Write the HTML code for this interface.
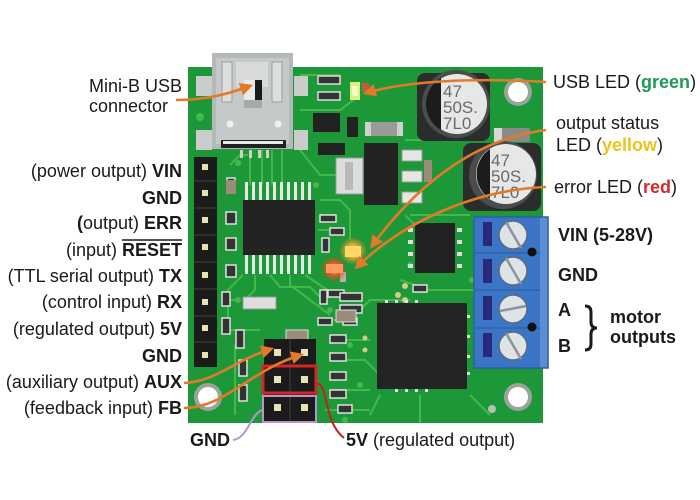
<!DOCTYPE html>
<html><head><meta charset="utf-8"><style>
html,body{margin:0;padding:0;background:#fff;}
svg{display:block}
text{font-family:"Liberation Sans",Arial,sans-serif;font-size:18px;fill:#1a1a1a}
.b{font-weight:bold}
.cap{font-size:17px;fill:#6a6a6a}
</style></head><body>
<svg width="700" height="500" viewBox="0 0 700 500" xmlns="http://www.w3.org/2000/svg">
<defs>
<marker id="ar" viewBox="0 0 12 12" markerWidth="13" markerHeight="13" refX="9" refY="6" orient="auto" markerUnits="userSpaceOnUse">
<path d="M0,0 L12,6 L0,12 z" fill="#e4792a"/>
</marker>
<radialGradient id="ly" cx="50%" cy="50%" r="50%"><stop offset="0" stop-color="#fff6a0"/><stop offset="0.5" stop-color="#ffb030" stop-opacity="0.8"/><stop offset="1" stop-color="#ff8020" stop-opacity="0"/></radialGradient>
<radialGradient id="lr" cx="50%" cy="50%" r="50%"><stop offset="0" stop-color="#ffd0a0"/><stop offset="0.5" stop-color="#ff5020" stop-opacity="0.8"/><stop offset="1" stop-color="#ff3010" stop-opacity="0"/></radialGradient>
</defs>

<!-- board -->
<rect x="188" y="67" width="355" height="356" fill="#1d9838"/>
<!-- traces -->
<g stroke="#46b84b" stroke-width="2" fill="none">
<path d="M250 150 V185 M262 150 V185 M272 150 V185 M282 150 V185"/>
<path d="M230 165 l10 -10 h8 M300 150 l20 25 h20 l10 15"/>
<path d="M243 275 l-15 15 v40 M255 275 v15 l-10 10 M270 275 l10 12 h30 l15 15 M290 275 v10 l40 30 M305 275 l30 20 h20"/>
<path d="M320 200 h20 l10 10 v30 M320 215 h15 M318 230 h25"/>
<path d="M225 220 h12 M225 245 h12 M225 270 h12 M225 300 h15"/>
<path d="M320 320 h30 l20 -20 h40 M330 340 h40 M330 360 h35 l15 15 M330 390 h40 M325 410 h45"/>
<path d="M470 290 h5 M400 280 l30 10 h40 M410 215 h60 M300 110 h40 l20 -15 M300 75 h40"/>
<path d="M380 395 l-10 20 M420 395 v28 M470 395 l20 20"/>
<path d="M220 140 h30 M230 330 h30 M235 345 v70"/>
<path d="M405 140 h45 l15 -15 M405 215 l15 15"/>
</g>
<g fill="#46b84b">
<circle cx="200" cy="117" r="4"/><circle cx="238" cy="163" r="3"/><circle cx="316" cy="185" r="3"/>
<circle cx="238" cy="300" r="3"/><circle cx="330" cy="310" r="3"/><circle cx="350" cy="345" r="3"/>
<circle cx="410" cy="265" r="3"/><circle cx="420" cy="290" r="3"/><circle cx="360" cy="385" r="3"/>
<circle cx="345" cy="420" r="3"/><circle cx="472" cy="280" r="3"/><circle cx="470" cy="130" r="3"/>
</g>

<!-- USB connector side pads -->
<rect x="196" y="76" width="16" height="20" fill="#c8cccb"/>
<rect x="196" y="130" width="16" height="20" fill="#c8cccb"/>
<rect x="294" y="76" width="14" height="20" fill="#c8cccb"/>
<rect x="294" y="130" width="14" height="20" fill="#c8cccb"/>
<!-- USB connector -->
<rect x="212" y="53" width="81" height="96" fill="#b5b8b9"/>
<rect x="216" y="58" width="73" height="86" fill="#c6c9ca"/>
<rect x="222" y="62" width="10" height="40" fill="#dcdedf" stroke="#9a9d9e"/>
<rect x="272" y="62" width="10" height="40" fill="#dcdedf" stroke="#9a9d9e"/>
<rect x="236" y="62" width="32" height="25" fill="#d8dadb"/>
<rect x="244" y="80" width="18" height="20" fill="#e8eaea"/>
<rect x="255" y="80" width="7" height="20" fill="#1c1c1c"/>
<rect x="244" y="100" width="18" height="8" fill="#a7aaab"/>
<circle cx="230" cy="124" r="3.5" fill="#eef0f0"/>
<circle cx="278" cy="124" r="3.5" fill="#eef0f0"/>
<rect x="221" y="140" width="65" height="8" fill="#202020"/>
<rect x="223" y="141" width="60" height="3" fill="#e8e8e8"/>
<g fill="#d0d0d0"><rect x="240" y="150" width="3" height="8"/><rect x="249" y="150" width="3" height="8"/><rect x="258" y="150" width="3" height="8"/><rect x="266" y="150" width="3" height="8"/></g>

<!-- top small parts -->
<rect x="313" y="113" width="27" height="19" fill="#222"/>
<rect x="347" y="117" width="11" height="20" fill="#222"/>
<rect x="318" y="76" width="22" height="8" fill="#333" stroke="#ddd" stroke-width="1.5"/>
<rect x="318" y="92" width="22" height="8" fill="#333" stroke="#ddd" stroke-width="1.5"/>
<rect x="318" y="143" width="27" height="12" fill="#222"/>
<rect x="365" y="122" width="38" height="14" rx="3" fill="#9c9a96"/>
<rect x="365" y="122" width="6" height="14" fill="#d0d0d0"/><rect x="397" y="122" width="6" height="14" fill="#d0d0d0"/>
<rect x="362" y="83" width="7" height="9" fill="#b86040"/>
<!-- green LED -->
<rect x="350" y="82" width="10" height="18" fill="#d8f080"/>
<rect x="352" y="86" width="6" height="10" fill="#f4ffc0"/>

<!-- silver component -->
<rect x="336" y="158" width="27" height="36" fill="#dcdedd" stroke="#9a9c9b"/>
<rect x="345" y="162" width="8" height="28" fill="#b8bab9"/>
<!-- regulator IC -->
<rect x="364" y="143" width="34" height="62" fill="#232323"/>
<g fill="#e6e6e6" stroke="#999"><rect x="402" y="150" width="20" height="11"/><rect x="402" y="171" width="20" height="11"/><rect x="402" y="192" width="20" height="11"/></g>
<rect x="424" y="160" width="8" height="22" fill="#9a8c7a"/>

<!-- capacitors -->
<rect x="417" y="73" width="73" height="68" rx="8" fill="#2a2d2b"/>
<circle cx="456" cy="104" r="34" fill="#4a4d4b"/>
<circle cx="457" cy="104" r="30" fill="#e6e8e8"/>
<path d="M441 78 A30 30 0 0 0 441 130 Z" fill="#1c1c1c"/>
<text x="443" y="97" class="cap">47</text>
<text x="443" y="113" class="cap">50S.</text>
<text x="443" y="129" class="cap">7L0</text>
<rect x="494" y="128" width="36" height="14" rx="2" fill="#8c8a86"/>
<rect x="494" y="128" width="8" height="14" fill="#d8d8d8"/>
<rect x="463" y="143" width="78" height="68" rx="8" fill="#2a2d2b"/>
<circle cx="503" cy="175" r="34" fill="#4a4d4b"/>
<circle cx="506" cy="174" r="30" fill="#e6e8e8"/>
<path d="M490 149 A30 30 0 0 0 490 199 Z" fill="#1c1c1c"/>
<text x="491" y="166" class="cap">47</text>
<text x="491" y="182" class="cap">50S.</text>
<text x="491" y="198" class="cap">7L0</text>

<!-- mounting holes -->
<circle cx="518" cy="92" r="14" fill="#9aa39c"/><circle cx="518" cy="92" r="10" fill="#fff"/>
<circle cx="208" cy="397" r="14" fill="#9aa39c"/><circle cx="208" cy="397" r="10" fill="#fff"/>
<circle cx="518" cy="397" r="14" fill="#9aa39c"/><circle cx="518" cy="397" r="10" fill="#fff"/>
<circle cx="492" cy="409" r="4" fill="#b7c0b8"/>

<!-- left header -->
<rect x="194" y="157" width="23" height="210" fill="#1b1b1b"/>
<g fill="#2e2e2e"><rect x="194" y="180" width="23" height="2"/><rect x="194" y="207" width="23" height="2"/><rect x="194" y="234" width="23" height="2"/><rect x="194" y="261" width="23" height="2"/><rect x="194" y="288" width="23" height="2"/><rect x="194" y="315" width="23" height="2"/><rect x="194" y="341" width="23" height="2"/></g>
<g fill="#e9e2b4">
<rect x="202" y="164" width="6" height="6"/><rect x="202" y="190" width="6" height="6"/><rect x="202" y="217" width="6" height="6"/><rect x="202" y="244" width="6" height="6"/>
<rect x="202" y="272" width="6" height="6"/><rect x="202" y="299" width="6" height="6"/><rect x="202" y="325" width="6" height="6"/><rect x="202" y="352" width="6" height="6"/>
</g>

<!-- small SMD parts left column -->
<g fill="#333" stroke="#e0e0e0" stroke-width="1.5">
<rect x="227" y="178" width="8" height="14"/><rect x="226" y="212" width="10" height="12"/><rect x="226" y="238" width="10" height="12"/>
<rect x="226" y="265" width="10" height="12"/><rect x="222" y="292" width="8" height="14"/><rect x="222" y="318" width="8" height="16"/>
<rect x="236" y="330" width="8" height="18"/><rect x="239" y="360" width="8" height="16"/><rect x="239" y="385" width="8" height="16"/>
</g>
<rect x="226" y="180" width="10" height="14" fill="#9a8c7a"/>

<!-- USB IC -->
<g fill="#e6e6e6">
<rect x="245" y="182" width="3" height="20"/><rect x="252" y="182" width="3" height="20"/><rect x="259" y="182" width="3" height="20"/><rect x="266" y="182" width="3" height="20"/><rect x="273" y="182" width="3" height="20"/>
<rect x="280" y="182" width="3" height="20"/><rect x="287" y="182" width="3" height="20"/><rect x="294" y="182" width="3" height="20"/><rect x="301" y="182" width="3" height="20"/><rect x="308" y="182" width="3" height="20"/>
<rect x="245" y="254" width="3" height="20"/><rect x="252" y="254" width="3" height="20"/><rect x="259" y="254" width="3" height="20"/><rect x="266" y="254" width="3" height="20"/><rect x="273" y="254" width="3" height="20"/>
<rect x="280" y="254" width="3" height="20"/><rect x="287" y="254" width="3" height="20"/><rect x="294" y="254" width="3" height="20"/><rect x="301" y="254" width="3" height="20"/><rect x="308" y="254" width="3" height="20"/>
</g>
<rect x="243" y="200" width="72" height="55" fill="#232323"/>

<!-- crystal -->
<rect x="243" y="297" width="33" height="12" fill="#dedfdc" stroke="#999"/>

<!-- misc SMD center -->
<g fill="#333" stroke="#e0e0e0" stroke-width="1.5">
<rect x="320" y="215" width="16" height="7"/><rect x="330" y="228" width="14" height="7"/><rect x="322" y="238" width="7" height="14"/>
<rect x="320" y="290" width="7" height="14"/><rect x="328" y="290" width="16" height="7"/>
<rect x="318" y="318" width="14" height="7"/><rect x="343" y="318" width="14" height="7"/>
<rect x="340" y="293" width="22" height="8"/><rect x="340" y="305" width="22" height="8"/>
<rect x="330" y="335" width="16" height="8"/><rect x="330" y="353" width="16" height="8"/><rect x="330" y="372" width="16" height="8"/>
<rect x="330" y="390" width="16" height="8"/><rect x="338" y="405" width="14" height="8"/>
<rect x="413" y="285" width="14" height="7"/>
</g>
<rect x="286" y="330" width="22" height="10" fill="#9a8c7a" stroke="#ddd"/>
<rect x="336" y="310" width="20" height="12" fill="#9a8c7a" stroke="#ddd"/>
<rect x="340" y="272" width="6" height="10" fill="#b8b0a0"/>

<!-- LEDs glow -->
<circle cx="353" cy="251" r="14" fill="url(#ly)"/>
<circle cx="334" cy="269" r="13" fill="url(#lr)"/>
<rect x="345" y="246" width="16" height="11" fill="#ffd86a"/>
<rect x="326" y="264" width="17" height="9" fill="#ff9a60"/>

<!-- middle IC -->
<rect x="415" y="223" width="40" height="50" fill="#222"/>
<g fill="#ddd"><rect x="408" y="228" width="5" height="4"/><rect x="408" y="240" width="5" height="4"/><rect x="408" y="252" width="5" height="4"/><rect x="408" y="264" width="5" height="4"/>
<rect x="457" y="228" width="5" height="4"/><rect x="457" y="240" width="5" height="4"/><rect x="457" y="252" width="5" height="4"/><rect x="457" y="264" width="5" height="4"/></g>
<g fill="#d8c98a"><circle cx="405" cy="286" r="3"/><circle cx="398" cy="295" r="3"/><circle cx="405" cy="300" r="3"/><circle cx="365" cy="338" r="2.5"/><circle cx="365" cy="350" r="2.5"/></g>

<!-- big QFN IC -->
<rect x="377" y="303" width="90" height="86" fill="#242424"/>
<g fill="#ddd"><rect x="385" y="300" width="3" height="3"/><rect x="395" y="300" width="3" height="3"/><rect x="405" y="300" width="3" height="3"/><rect x="415" y="300" width="3" height="3"/>
<rect x="395" y="389" width="3" height="3"/><rect x="405" y="389" width="3" height="3"/><rect x="415" y="389" width="3" height="3"/><rect x="425" y="389" width="3" height="3"/>
<rect x="467" y="315" width="3" height="3"/><rect x="467" y="335" width="3" height="3"/><rect x="467" y="355" width="3" height="3"/><rect x="467" y="372" width="3" height="3"/></g>

<!-- bottom header -->
<rect x="264" y="339" width="52" height="84" fill="#1b1b1b"/>
<rect x="289" y="339" width="2" height="84" fill="#2e2e2e"/>
<g fill="#e9e2b4">
<rect x="274" y="349" width="7" height="7"/><rect x="301" y="349" width="7" height="7"/>
<rect x="274" y="376" width="7" height="7"/><rect x="301" y="376" width="7" height="7"/>
<rect x="274" y="404" width="7" height="7"/><rect x="301" y="404" width="7" height="7"/>
</g>
<rect x="263" y="366" width="53" height="27" fill="none" stroke="#d42626" stroke-width="3"/>
<rect x="263" y="396" width="53" height="26" fill="none" stroke="#b795c8" stroke-width="2"/>
<path d="M316 383 C 330 385, 322 420, 344 438" fill="none" stroke="#c21e1e" stroke-width="2"/>
<path d="M262 410 C 250 415, 248 438, 233 440" fill="none" stroke="#b795c8" stroke-width="2"/>

<!-- terminal block -->
<rect x="474" y="217" width="74" height="151" fill="#3b76c6"/>
<rect x="540" y="217" width="8" height="151" fill="#5a8fd6"/>
<rect x="474" y="217" width="74" height="151" fill="none" stroke="#2c5ea8" stroke-width="1.5"/>
<g stroke="#2f62ab" stroke-width="1.5"><line x1="474" y1="253" x2="540" y2="253"/><line x1="474" y1="290" x2="540" y2="290"/><line x1="474" y1="328" x2="540" y2="328"/></g>
<g fill="#2a2878"><rect x="483" y="222" width="9" height="24"/><rect x="483" y="259" width="9" height="24"/><rect x="483" y="296" width="9" height="24"/><rect x="483" y="333" width="9" height="24"/></g>
<g fill="#dfe3e6" stroke="#5a6a80" stroke-width="1.5">
<circle cx="513" cy="235" r="14"/><circle cx="513" cy="271" r="14"/><circle cx="513" cy="309" r="14"/><circle cx="513" cy="346" r="14"/>
</g>
<g stroke="#8a949c" stroke-width="2.5"><line x1="506" y1="222" x2="521" y2="248"/><line x1="506" y1="258" x2="521" y2="284"/><line x1="500" y1="311" x2="526" y2="306"/><line x1="506" y1="333" x2="521" y2="359"/></g>
<circle cx="532" cy="252" r="4.5" fill="#111"/><circle cx="532" cy="327" r="4.5" fill="#111"/>

<!-- orange arrows -->
<g fill="none" stroke="#e4792a" stroke-width="2.6" marker-end="url(#ar)">
<path d="M176 100 C 205 100, 225 95, 250 86"/>
<path d="M546 82 C 480 78, 410 80, 366 93"/>
<path d="M546 130 C 480 138, 420 180, 372 246"/>
<path d="M546 187 C 470 190, 400 225, 357 267"/>
<path d="M184 383 C 215 382, 235 360, 271 349"/>
<path d="M184 408 C 225 408, 250 370, 301 355"/>
</g>

<!-- labels left -->
<text x="89" y="92">Mini-B USB</text>
<text x="89" y="112">connector</text>
<g text-anchor="end">
<text x="182" y="177">(power output) <tspan class="b">VIN</tspan></text>
<text x="182" y="204" class="b">GND</text>
<text x="182" y="229"><tspan class="b">(</tspan>output) <tspan class="b">ERR</tspan></text>
<text x="182" y="256">(input) <tspan class="b">RESET</tspan></text>
<text x="182" y="282">(TTL serial output) <tspan class="b">TX</tspan></text>
<text x="182" y="308">(control input) <tspan class="b">RX</tspan></text>
<text x="182" y="335">(regulated output) <tspan class="b">5V</tspan></text>
<text x="182" y="362" class="b">GND</text>
<text x="182" y="388">(auxiliary output) <tspan class="b">AUX</tspan></text>
<text x="182" y="414">(feedback input) <tspan class="b">FB</tspan></text>
</g>
<line x1="122" y1="240" x2="182" y2="240" stroke="#1a1a1a" stroke-width="1.5"/>

<!-- labels right -->
<text x="553" y="88">USB LED (<tspan class="b" style="fill:#1f9a55">green</tspan>)</text>
<text x="556" y="129">output status</text>
<text x="556" y="151">LED (<tspan class="b" style="fill:#f2c21c">yellow</tspan>)</text>
<text x="554" y="193">error LED (<tspan class="b" style="fill:#d32a2a">red</tspan>)</text>
<text x="558" y="241" class="b">VIN (5-28V)</text>
<text x="558" y="281" class="b">GND</text>
<text x="558" y="316" class="b">A</text>
<text x="558" y="352" class="b">B</text>
<path d="M585 306 q 6 0 6 6 v 10 q 0 6 6 6 q -6 0 -6 6 v 10 q 0 6 -6 6" fill="none" stroke="#1a1a1a" stroke-width="3"/>
<text x="610" y="323" class="b">motor</text>
<text x="610" y="343" class="b">outputs</text>

<!-- bottom labels -->
<text x="190" y="446" class="b">GND</text>
<text x="346" y="446"><tspan class="b">5V</tspan> (regulated output)</text>
</svg>
</body></html>
